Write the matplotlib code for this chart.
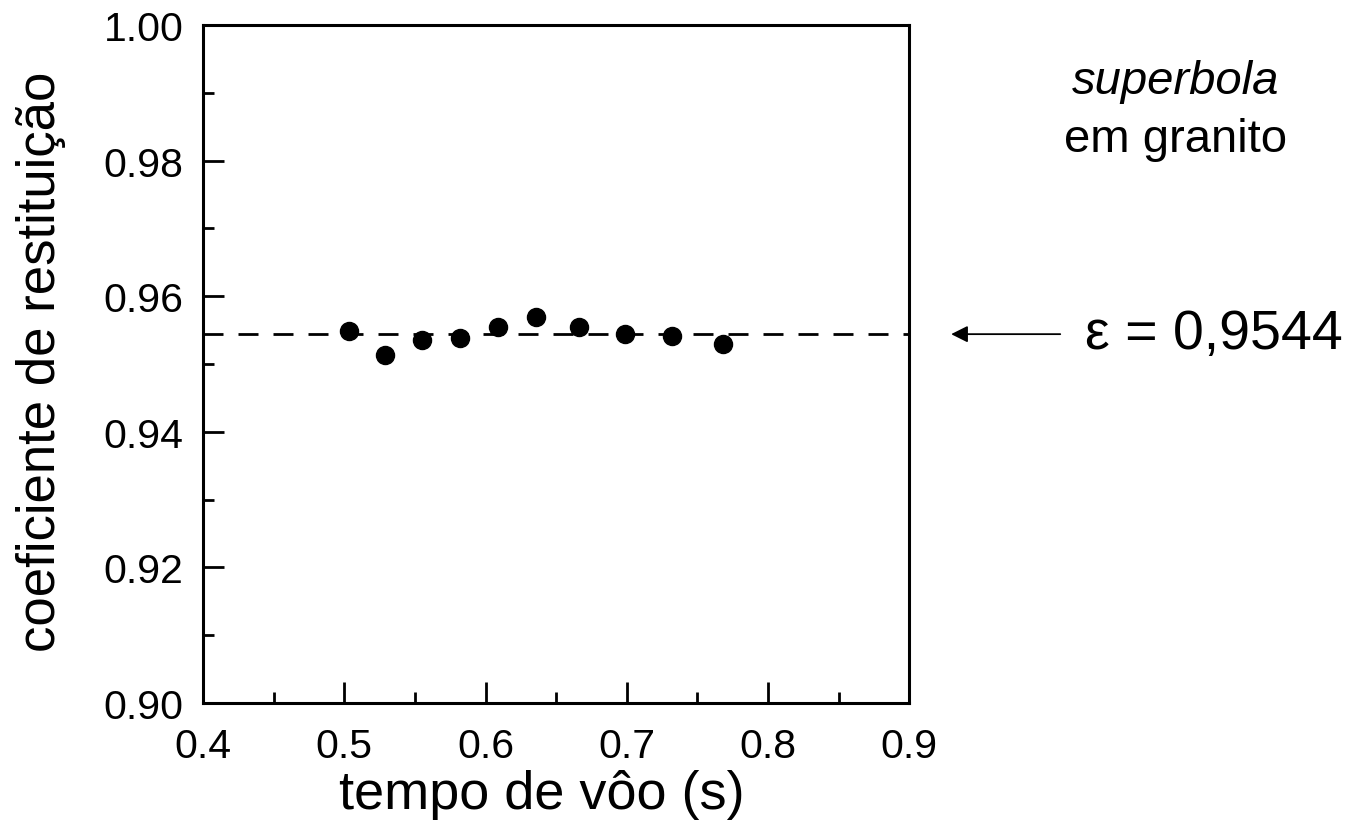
import numpy as np
import matplotlib
matplotlib.use('Agg')
import matplotlib.pyplot as plt
from matplotlib.ticker import MultipleLocator, FormatStrFormatter
from matplotlib.transforms import blended_transform_factory

plt.rcParams['font.family'] = ['Liberation Sans', 'DejaVu Sans']

# Data
tempo_voo = [0.503, 0.529, 0.555, 0.582, 0.609, 0.636, 0.666, 0.699, 0.732, 0.768]
coef_rest = [0.9549, 0.9513, 0.9536, 0.9538, 0.9554, 0.9570, 0.9554, 0.9544, 0.9541, 0.9529]
eps_medio = 0.9544
eps_texto = '\u03b5 = 0,9544'

fig = plt.figure(figsize=(13.49, 8.28), dpi=100)
ax = fig.add_axes([0.1505, 0.1498, 0.5235, 0.8188])

ax.axhline(eps_medio, color='black', lw=2, ls=(0, (7.2, 5.4)), zorder=1)
ax.plot(tempo_voo, coef_rest, 'o', color='black', ms=13, zorder=2)

ax.set_xlim(0.4, 0.9)
ax.set_ylim(0.90, 1.00)
ax.xaxis.set_major_locator(MultipleLocator(0.1))
ax.xaxis.set_minor_locator(MultipleLocator(0.05))
ax.yaxis.set_major_locator(MultipleLocator(0.02))
ax.yaxis.set_minor_locator(MultipleLocator(0.01))
ax.xaxis.set_major_formatter(FormatStrFormatter('%.1f'))
ax.yaxis.set_major_formatter(FormatStrFormatter('%.2f'))

ax.tick_params(which='both', direction='in', width=2, top=False, right=False, labelsize=29.5)
ax.tick_params(axis='x', pad=17)
ax.tick_params(axis='y', pad=14)
ax.tick_params(which='major', length=15)
ax.tick_params(which='minor', length=8)
for s in ax.spines.values():
    s.set_linewidth(2.2)

ax.set_xlabel('tempo de vôo (s)', fontsize=39)
ax.xaxis.set_label_coords(0.48, -0.098)
ax.set_ylabel('coeficiente de restituição', fontsize=38)
ax.yaxis.set_label_coords(-0.194, 0.504)

# arrow and value to the right of the axes
fig_y = blended_transform_factory(fig.transFigure, ax.transData)
ax.annotate('', xy=(0.703, eps_medio), xytext=(0.788, eps_medio),
            xycoords=fig_y, textcoords=fig_y,
            arrowprops=dict(arrowstyle='-|>', color='black', lw=1.3, mutation_scale=25))
ax.text(0.804, eps_medio, eps_texto, transform=fig_y, fontsize=40, va='center', ha='left')

fig.text(0.8718, 0.8865, 'superbola', fontsize=34, style='italic', ha='center', va='baseline')
fig.text(0.8718, 0.8164, 'em granito', fontsize=34, ha='center', va='baseline')

fig.savefig('out.png', dpi=100)
